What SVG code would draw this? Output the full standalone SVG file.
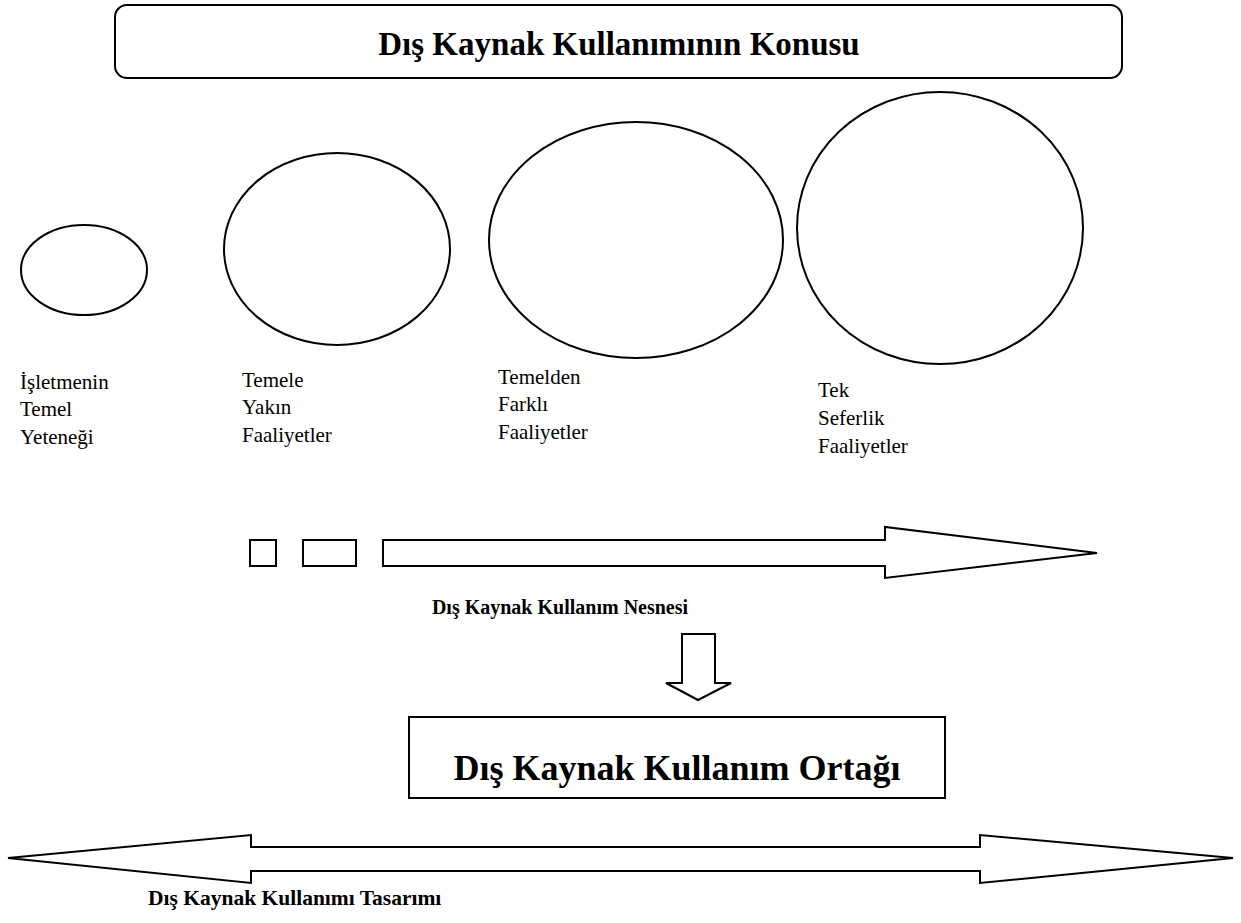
<svg xmlns="http://www.w3.org/2000/svg" width="1241" height="923" viewBox="0 0 1241 923">
<style>
.s{fill:#fff;stroke:#000;stroke-width:2}
.t{font-family:"Liberation Serif","Times New Roman",serif;fill:#000}
.b{font-weight:bold}
.r{font-size:21px}
</style>
<rect width="1241" height="923" fill="#fff"/>
<g id="title">
<rect class="s" x="115" y="5" width="1007" height="73" rx="12"/>
<text class="t b" x="619" y="55" font-size="33" text-anchor="middle">Dış Kaynak Kullanımının Konusu</text>
</g>
<g id="e1"><ellipse class="s" cx="84" cy="270" rx="63" ry="45"/>
<text class="t r"><tspan x="20" y="389">İşletmenin</tspan><tspan x="20" y="416">Temel</tspan><tspan x="20" y="444">Yeteneği</tspan></text></g>
<g id="e2"><ellipse class="s" cx="337" cy="249" rx="113" ry="96"/>
<text class="t r"><tspan x="242" y="387">Temele</tspan><tspan x="242" y="414">Yakın</tspan><tspan x="242" y="442">Faaliyetler</tspan></text></g>
<g id="e3"><ellipse class="s" cx="636" cy="240" rx="147" ry="118"/>
<text class="t r"><tspan x="498" y="384">Temelden</tspan><tspan x="498" y="411">Farklı</tspan><tspan x="498" y="439">Faaliyetler</tspan></text></g>
<g id="e4"><ellipse class="s" cx="940" cy="228" rx="143" ry="136"/>
<text class="t r"><tspan x="818" y="397">Tek</tspan><tspan x="818" y="425">Seferlik</tspan><tspan x="818" y="453">Faaliyetler</tspan></text></g>
<g id="object">
<rect class="s" x="250" y="540" width="26" height="26"/>
<rect class="s" x="303" y="540" width="53" height="26"/>
<polygon class="s" points="383,540 885,540 885,527 1097,553 885,578 885,566 383,566"/>
<text class="t b" x="560" y="614" font-size="20" text-anchor="middle">Dış Kaynak Kullanım Nesnesi</text>
</g>
<g id="connectors">
<polygon class="s" points="682,634 715,634 715,683 731,683 698,700 666,683 682,683"/>
</g>
<g id="partner">
<rect class="s" x="409" y="717" width="536" height="81"/>
<text class="t b" x="677" y="780" font-size="36" text-anchor="middle">Dış Kaynak Kullanım Ortağı</text>
</g>
<g id="design">
<polygon class="s" points="8,858 251,835 251,847 980,847 980,835 1233,858 980,883 980,871 251,871 251,883"/>
<text class="t b" x="148" y="905" font-size="21.5">Dış Kaynak Kullanımı Tasarımı</text>
</g>
</svg>
